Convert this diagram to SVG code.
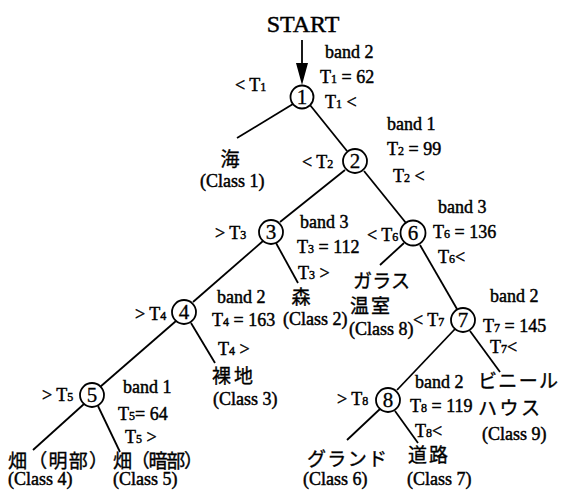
<svg xmlns="http://www.w3.org/2000/svg" width="561" height="490" viewBox="0 0 561 490">
<style>
  .t { font-family: "Liberation Serif", "Times New Roman", serif; font-size: 18px; fill: #000; stroke: #000; stroke-width: 0.45; }
  .st { font-size: 24px; }
  .s { font-size: 12px; }
  .j { font-family: "Noto Sans CJK JP", "Noto Sans CJK SC", sans-serif; font-size: 19px; fill: #000; stroke: #000; stroke-width: 0.35; }
  .n { fill: #fff; stroke: #000; stroke-width: 1.8; }
  .nl { font-family: "Liberation Serif", "Times New Roman", serif; font-size: 21px; text-anchor: middle; fill: #000; stroke: #000; stroke-width: 0.3; }
  .e { stroke: #000; stroke-width: 1.8; fill: none; }
</style>
<rect width="561" height="490" fill="#fff"/>
<g id="connectors">
  <line class="e" x1="302" y1="40" x2="302" y2="64"/>
  <polygon points="296,63 308,63 302,85" fill="#000"/>
  <line class="e" x1="293" y1="104" x2="237" y2="138"/>
  <line class="e" x1="310" y1="105" x2="347" y2="151"/>
  <line class="e" x1="345" y1="170" x2="280" y2="222"/>
  <line class="e" x1="364" y1="171" x2="406" y2="223"/>
  <line class="e" x1="263" y1="241" x2="193" y2="302"/>
  <line class="e" x1="276" y1="243" x2="298" y2="283"/>
  <line class="e" x1="404" y1="243" x2="380" y2="265"/>
  <line class="e" x1="420" y1="245" x2="457" y2="309"/>
  <line class="e" x1="176" y1="321" x2="100" y2="387"/>
  <line class="e" x1="191" y1="323" x2="215" y2="363"/>
  <line class="e" x1="84" y1="404" x2="33" y2="450"/>
  <line class="e" x1="98" y1="406" x2="120" y2="452"/>
  <line class="e" x1="455" y1="329" x2="397" y2="390"/>
  <line class="e" x1="470" y1="331" x2="500" y2="372"/>
  <line class="e" x1="380" y1="409" x2="347" y2="440"/>
  <line class="e" x1="395" y1="411" x2="418" y2="443"/>
</g>
<g id="start">
  <text class="t st" x="303" y="32" text-anchor="middle">START</text>
</g>
<g id="node1">
  <circle class="n" cx="302" cy="97" r="11.5"/>
  <text class="nl" x="302" y="104">1</text>
  <text class="t" x="235" y="91">&lt; T<tspan class="s">1</tspan></text>
  <text class="t" x="325" y="58">band 2</text>
  <text class="t" x="320" y="83">T<tspan class="s">1</tspan> = 62</text>
  <text class="t" x="325" y="108">T<tspan class="s">1</tspan> &lt;</text>
</g>
<g id="class1">
  <text class="j" x="230" y="166" text-anchor="middle">海</text>
  <text class="t" x="200" y="187">(Class 1)</text>
</g>
<g id="node2">
  <circle class="n" cx="355" cy="161" r="12"/>
  <text class="nl" x="355" y="168">2</text>
  <text class="t" x="302" y="168">&lt; T<tspan class="s">2</tspan></text>
  <text class="t" x="387" y="130">band 1</text>
  <text class="t" x="387" y="155">T<tspan class="s">2</tspan> = 99</text>
  <text class="t" x="393" y="182">T<tspan class="s">2</tspan> &lt;</text>
</g>
<g id="node3">
  <circle class="n" cx="271" cy="232" r="12"/>
  <text class="nl" x="271" y="239">3</text>
  <text class="t" x="215" y="239">&gt; T<tspan class="s">3</tspan></text>
  <text class="t" x="300" y="228">band 3</text>
  <text class="t" x="297" y="253">T<tspan class="s">3</tspan> = 112</text>
  <text class="t" x="298" y="279">T<tspan class="s">3</tspan> &gt;</text>
</g>
<g id="class2">
  <text class="j" x="301" y="304" text-anchor="middle">森</text>
  <text class="t" x="283" y="325">(Class 2)</text>
</g>
<g id="node6">
  <circle class="n" cx="413" cy="233" r="12.5"/>
  <text class="nl" x="413" y="240">6</text>
  <text class="t" x="367" y="241">&lt; T<tspan class="s">6</tspan></text>
  <text class="t" x="438" y="213">band 3</text>
  <text class="t" x="433" y="238">T<tspan class="s">6</tspan> = 136</text>
  <text class="t" x="438" y="263">T<tspan class="s">6</tspan>&lt;</text>
</g>
<g id="class8">
  <text class="j" x="353" y="288" textLength="57">ガラス</text>
  <text class="j" x="350" y="313" textLength="40">温室</text>
  <text class="t" x="349" y="335">(Class 8)</text>
</g>
<g id="node4">
  <circle class="n" cx="184" cy="312" r="12"/>
  <text class="nl" x="184" y="319">4</text>
  <text class="t" x="135" y="320">&gt; T<tspan class="s">4</tspan></text>
  <text class="t" x="217" y="303">band 2</text>
  <text class="t" x="212" y="326">T<tspan class="s">4</tspan> = 163</text>
  <text class="t" x="218" y="355">T<tspan class="s">4</tspan> &gt;</text>
</g>
<g id="class3">
  <text class="j" x="212" y="383" textLength="41">裸地</text>
  <text class="t" x="213" y="405">(Class 3)</text>
</g>
<g id="node7">
  <circle class="n" cx="463" cy="320" r="12"/>
  <text class="nl" x="463" y="327">7</text>
  <text class="t" x="413" y="326">&lt; T<tspan class="s">7</tspan></text>
  <text class="t" x="490" y="302">band 2</text>
  <text class="t" x="483" y="332">T<tspan class="s">7</tspan> = 145</text>
  <text class="t" x="490" y="353">T<tspan class="s">7</tspan>&lt;</text>
</g>
<g id="class9">
  <text class="j" x="478" y="388" textLength="80">ビニール</text>
  <text class="j" x="478" y="415" textLength="62">ハウス</text>
  <text class="t" x="482" y="440">(Class 9)</text>
</g>
<g id="node5">
  <circle class="n" cx="92" cy="395" r="12"/>
  <text class="nl" x="92" y="402">5</text>
  <text class="t" x="42" y="401">&gt; T<tspan class="s">5</tspan></text>
  <text class="t" x="123" y="393">band 1</text>
  <text class="t" x="118" y="420">T<tspan class="s">5</tspan>= 64</text>
  <text class="t" x="125" y="443">T<tspan class="s">5</tspan> &gt;</text>
</g>
<g id="class4">
  <text class="j" x="8" y="468" textLength="100">畑（明部）</text>
  <text class="t" x="8" y="485">(Class 4)</text>
</g>
<g id="class5">
  <text class="j" x="113" y="468" textLength="90">畑（暗部）</text>
  <text class="t" x="113" y="485">(Class 5)</text>
</g>
<g id="node8">
  <circle class="n" cx="388" cy="400" r="12"/>
  <text class="nl" x="388" y="407">8</text>
  <text class="t" x="337" y="405">&gt; T<tspan class="s">8</tspan></text>
  <text class="t" x="415" y="388">band 2</text>
  <text class="t" x="410" y="412">T<tspan class="s">8</tspan> = 119</text>
  <text class="t" x="415" y="437">T<tspan class="s">8</tspan>&lt;</text>
</g>
<g id="class6">
  <text class="j" x="307" y="466" textLength="80">グランド</text>
  <text class="t" x="303" y="485">(Class 6)</text>
</g>
<g id="class7">
  <text class="j" x="408" y="462" textLength="40">道路</text>
  <text class="t" x="407" y="485">(Class 7)</text>
</g>
</svg>
